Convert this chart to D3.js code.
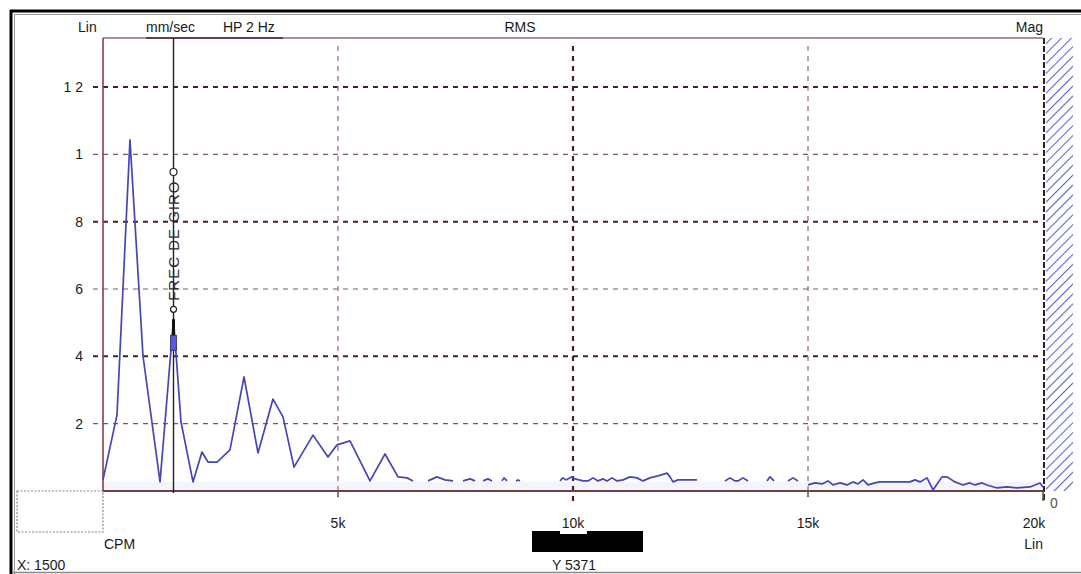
<!DOCTYPE html>
<html>
<head>
<meta charset="utf-8">
<script src="https://cdn.jsdelivr.net/npm/d3@7"></script>
<style>
  body { margin: 0; background: #fff; }
  text { font-family: "Liberation Sans", Arial, sans-serif; fill: #1a1a1a; }
</style>
</head>
<body>
<div id="chart"></div>
<script>
// Spectrum data: frequency (CPM) and amplitude; null = line break
const freqCPM = [0, 298, 574, 851, 1213, 1320, 1500, 1660, 1915, 2106, 2234, 2426, 2702, 3000, 3298, 3617, 3830, 4064, 4468, 4787, 4979, 5255, 5681, 6000, 6277, 6468, 6596,
  6750,
  6915, 7106, 7277, 7447,
  7550,
  7660, 7809, 7915,
  8000,
  8085, 8191, 8277,
  8380,
  8489, 8532, 8596,
  8700,
  8787, 8830, 8872,
  9300,
  9723, 9787, 9850, 9979, 10043, 10213, 10319, 10426, 10532, 10638, 10723, 10830, 10936, 11064, 11213, 11362, 11489, 11638, 11809, 12000, 12064, 12128, 12234, 12638,
  12900,
  13234, 13340, 13447, 13511, 13617, 13723,
  13900,
  14128, 14191, 14277,
  14400,
  14574, 14681, 14787,
  14890,
  15000, 15149, 15298, 15426, 15532, 15681, 15830, 15957, 16064, 16170, 16277, 16426, 16532, 17170, 17277, 17383, 17532, 17660, 17851, 17957, 18128, 18298, 18447, 18553, 18702, 18809, 19021, 19234, 19447, 19723, 19936, 20000];
const ampMMS = [0.033, 0.226, 1.043, 0.401, 0.027, 0.205, 0.51, 0.205, 0.027, 0.116, 0.086, 0.086, 0.122, 0.339, 0.113, 0.273, 0.22, 0.071, 0.166, 0.101, 0.137, 0.149, 0.030, 0.110, 0.042, 0.039, 0.030,
  null,
  0.030, 0.042, 0.033, 0.030,
  null,
  0.030, 0.036, 0.030,
  null,
  0.030, 0.036, 0.030,
  null,
  0.030, 0.039, 0.030,
  null,
  0.030, 0.033, 0.030,
  null,
  0.030, 0.039, 0.033, 0.042, 0.036, 0.030, 0.030, 0.039, 0.030, 0.036, 0.030, 0.039, 0.030, 0.033, 0.042, 0.039, 0.030, 0.039, 0.045, 0.053, 0.042, 0.027, 0.033, 0.033,
  null,
  0.030, 0.039, 0.030, 0.030, 0.039, 0.030,
  null,
  0.030, 0.042, 0.030,
  null,
  0.030, 0.039, 0.030,
  null,
  0.018, 0.024, 0.021, 0.030, 0.018, 0.024, 0.018, 0.027, 0.021, 0.033, 0.018, 0.024, 0.027, 0.027, 0.033, 0.027, 0.039, 0.003, 0.042, 0.042, 0.027, 0.018, 0.024, 0.018, 0.024, 0.018, 0.009, 0.012, 0.009, 0.012, 0.024, 0.012];

const yTicks = [1.2, 1.0, 0.8, 0.6, 0.4, 0.2];
const yTickLabels = ["1 2", "1", "8", "6", "4", "2"];
const xTicks = [5000, 10000, 15000, 20000];
const xTickLabels = ["5k", "10k", "15k", "20k"];
const cursorCPM = 1500;
const cursorY = 5371;

const W = 1081, H = 574;
const pL = 103, pR = 1043, pT = 38, pB = 491;

const svg = d3.select("#chart").append("svg")
    .attr("width", W)
    .attr("height", H);

const x = d3.scaleLinear().domain([0, 20000]).range([pL, pR]);
const y = d3.scaleLinear().domain([0, 1.2]).range([pB, 87]);

// ----- outer frame -----
svg.append("line").attr("x1", 10).attr("x2", W).attr("y1", 11).attr("y2", 11)
    .attr("stroke", "#000").attr("stroke-width", 3);
svg.append("line").attr("x1", 14).attr("x2", W).attr("y1", 14.5).attr("y2", 14.5)
    .attr("stroke", "#999").attr("stroke-width", 1);
svg.append("line").attr("x1", 11).attr("x2", 11).attr("y1", 10).attr("y2", H)
    .attr("stroke", "#000").attr("stroke-width", 3);
svg.append("line").attr("x1", 14.5).attr("x2", 14.5).attr("y1", 14).attr("y2", H)
    .attr("stroke", "#999").attr("stroke-width", 1);
svg.append("line").attr("x1", 12).attr("x2", W).attr("y1", 572.5).attr("y2", 572.5)
    .attr("stroke", "#888").attr("stroke-width", 1.5);

// dotted box bottom-left
svg.append("path")
    .attr("d", `M17,${pB} H${pL} V532 H17 Z`)
    .attr("fill", "none").attr("stroke", "#888").attr("stroke-width", 1.2)
    .attr("stroke-dasharray", "2,1.5");

// light band just above the baseline
svg.append("rect")
    .attr("x", pL).attr("y", y(0.027)).attr("width", pR - pL).attr("height", pB - y(0.027))
    .attr("fill", "#f5f4fb");

// hatched area on the right
const defs = svg.append("defs");
const pat = defs.append("pattern").attr("id", "hatch")
    .attr("patternUnits", "userSpaceOnUse").attr("width", 7).attr("height", 7)
    .attr("patternTransform", "rotate(45)");
pat.append("line").attr("x1", 0).attr("y1", 0).attr("x2", 0).attr("y2", 7)
    .attr("stroke", "#6262d6").attr("stroke-width", 2.2);
svg.append("rect").attr("x", pR + 3).attr("y", pT).attr("width", 27).attr("height", pB - pT)
    .attr("fill", "url(#hatch)");

// ----- grid -----
const strong = d => Math.round(d * 10) % 4 === 0; // 1.2, .8, .4 drawn darker
svg.append("g").selectAll("line")
    .data(yTicks)
    .enter().append("line")
    .attr("x1", pL - 10).attr("x2", pR)
    .attr("y1", d => y(d)).attr("y2", d => y(d))
    .attr("stroke", d => strong(d) ? "#4a1f2c" : "#7a5863")
    .attr("stroke-width", d => strong(d) ? 2 : 1.2)
    .attr("stroke-dasharray", "5,5");

svg.append("g").selectAll("line")
    .data(xTicks.slice(0, 3))
    .enter().append("line")
    .attr("x1", d => x(d)).attr("x2", d => x(d))
    .attr("y1", pT + 8).attr("y2", d => d === 10000 ? pB + 11 : pB + 6)
    .attr("stroke", d => d === 10000 ? "#4a1f2c" : "#9a7480")
    .attr("stroke-width", d => d === 10000 ? 2.2 : 1.3)
    .attr("stroke-dasharray", "5,5");

// right border (dashed, dark)
svg.append("line").attr("x1", pR + 1).attr("x2", pR + 1).attr("y1", pT).attr("y2", pB + 10)
    .attr("stroke", "#3a1a22").attr("stroke-width", 2).attr("stroke-dasharray", "6,2");

// plot top border
svg.append("line").attr("x1", pL).attr("x2", pR).attr("y1", pT).attr("y2", pT)
    .attr("stroke", "#8a7076").attr("stroke-width", 1.5);
svg.append("line").attr("x1", 146).attr("x2", 283).attr("y1", pT).attr("y2", pT)
    .attr("stroke", "#6e3a48").attr("stroke-width", 2);
// left axis
svg.append("line").attr("x1", pL).attr("x2", pL).attr("y1", pT).attr("y2", pB)
    .attr("stroke", "#8b3a4a").attr("stroke-width", 1.6);
// baseline
svg.append("line").attr("x1", pL).attr("x2", pR).attr("y1", pB).attr("y2", pB)
    .attr("stroke", "#6e4048").attr("stroke-width", 2);

// x tick marks
svg.append("g").selectAll("line")
    .data([5000, 15000, 20000])
    .enter().append("line")
    .attr("x1", d => x(d)).attr("x2", d => x(d))
    .attr("y1", pB).attr("y2", d => d === 20000 ? pB + 10 : pB + 6)
    .attr("stroke", "#555").attr("stroke-width", 1.5);

// ----- labels -----
svg.append("g").selectAll("text")
    .data(yTicks)
    .enter().append("text")
    .attr("x", 83).attr("y", d => y(d) + 5)
    .attr("text-anchor", "end")
    .attr("font-size", 14)
    .text((d, i) => yTickLabels[i]);

// bottom black bar under the 10k label
svg.append("rect").attr("x", 532).attr("y", 531).attr("width", 111).attr("height", 21).attr("fill", "#000");
svg.append("rect").attr("x", 560).attr("y", 529).attr("width", 27).attr("height", 5).attr("fill", "#fff");

svg.append("g").selectAll("text")
    .data(xTicks)
    .enter().append("text")
    .attr("x", d => d === 20000 ? x(d) - 9 : x(d))
    .attr("y", 528)
    .attr("text-anchor", "middle")
    .attr("font-size", 14)
    .text((d, i) => xTickLabels[i]);

const label = (tx, ty, t, anchor, size) =>
    svg.append("text").attr("x", tx).attr("y", ty)
        .attr("text-anchor", anchor || "start")
        .attr("font-size", size || 14)
        .text(t);

label(78, 32, "Lin");
label(146, 32, "mm/sec");
label(223, 32, "HP 2 Hz");
label(520, 32, "RMS", "middle");
label(1043, 32, "Mag", "end");
label(104, 549, "CPM");
label(1043, 549, "Lin", "end");
label(1050, 508, "0", "start", 14).style("fill", "#555");
label(17, 570, "X: 1500");
label(552, 570, "Y  " + cursorY);

// ----- spectrum line -----
const data = freqCPM.map((f, i) => ({ f: f, a: ampMMS[i] }));
const line = d3.line()
    .defined(d => d.a !== null)
    .x(d => x(d.f))
    .y(d => y(d.a));

svg.append("path")
    .datum(data)
    .attr("d", line)
    .attr("fill", "none")
    .attr("stroke", "#4646b4")
    .attr("stroke-width", 1.7)
    .attr("stroke-linejoin", "round");

// ----- cursor -----
const cx = x(cursorCPM);
const peak = ampMMS[freqCPM.indexOf(cursorCPM)];
svg.append("line").attr("x1", cx).attr("x2", cx).attr("y1", pT).attr("y2", pB + 2)
    .attr("stroke", "#222").attr("stroke-width", 1.4);
svg.append("line").attr("x1", cx).attr("x2", cx).attr("y1", y(peak)).attr("y2", y(peak) + 17)
    .attr("stroke", "#111").attr("stroke-width", 3);
svg.append("rect").attr("x", cx - 3).attr("y", y(peak) + 16).attr("width", 6).attr("height", 15)
    .attr("fill", "#5a5ad8").attr("stroke", "#2a2a7a").attr("stroke-width", 0.8);
svg.append("circle").attr("cx", cx).attr("cy", y(peak) - 10).attr("r", 3)
    .attr("fill", "#fff").attr("stroke", "#222").attr("stroke-width", 1.2);
svg.append("circle").attr("cx", cx).attr("cy", 172).attr("r", 3.5)
    .attr("fill", "#fff").attr("stroke", "#222").attr("stroke-width", 1.2);
svg.append("text")
    .attr("transform", `translate(${cx + 5},${(178 + y(peak) - 16) / 2}) rotate(-90)`)
    .attr("text-anchor", "middle")
    .attr("font-size", 15)
    .attr("letter-spacing", 1)
    .style("fill", "#2a2a2a")
    .text("FREC DE GIRO");
</script>
</body>
</html>
